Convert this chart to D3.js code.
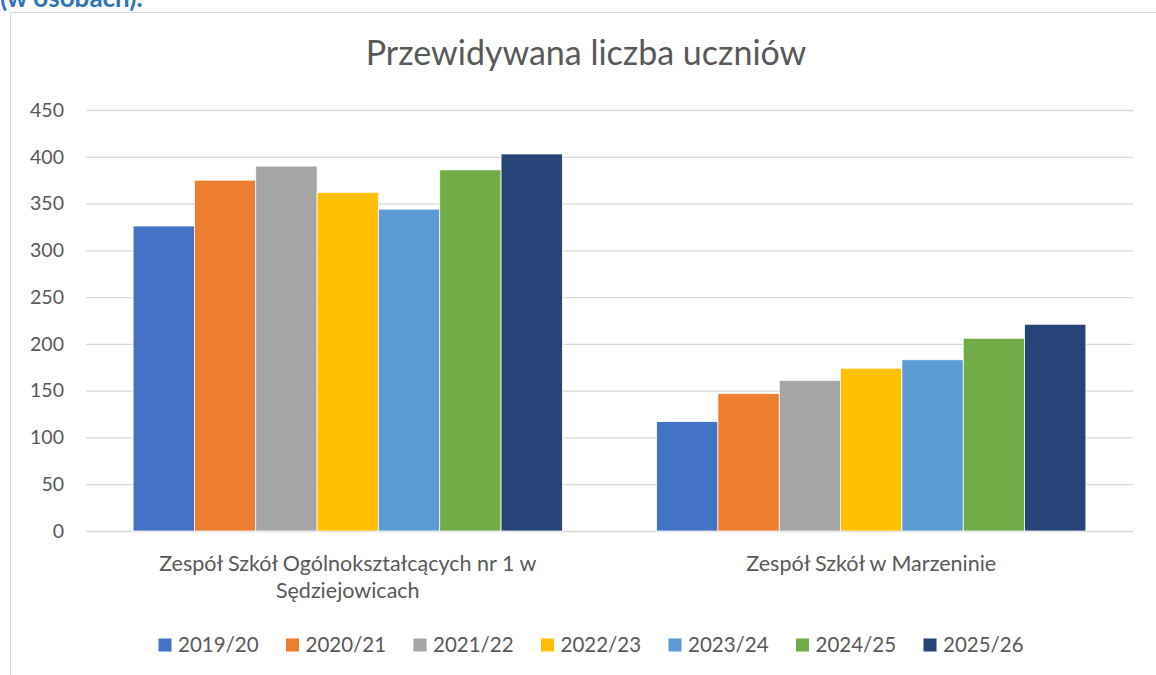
<!DOCTYPE html>
<html>
<head>
<meta charset="utf-8">
<script src="https://cdn.jsdelivr.net/npm/d3@7"></script>
<style>
  body { margin: 0; background: #fff; }
  text { font-family: Lato, "Noto Sans", sans-serif; fill: #595959; }
</style>
</head>
<body>
<svg></svg>
<script>
const categories = [
    ["Zespół Szkół Ogólnokształcących nr 1 w", "Sędziejowicach"],
    ["Zespół Szkół w Marzeninie"]
];
const seriesNames = ["2019/20", "2020/21", "2021/22", "2022/23", "2023/24", "2024/25", "2025/26"];
const seriesColors = ["#4472C4", "#ED7D31", "#A5A5A5", "#FFC000", "#5B9BD5", "#70AD47", "#264478"];
// wartości: [szkoła 1, szkoła 2]
const values = [
    [326, 117],
    [375, 147],
    [390, 161],
    [362, 174],
    [344, 183],
    [386, 206],
    [403, 221]
];
const yTicks = [0, 50, 100, 150, 200, 250, 300, 350, 400, 450];

const width = 1156, height = 675;
const svg = d3.select("svg").attr("width", width).attr("height", height);

// tekst nad wykresem (ucięty u góry strony)
svg.append("text")
    .attr("x", 0).attr("y", 6.5)
    .style("fill", "#2F75B5")
    .style("font-weight", "bold")
    .style("font-size", "26px")
    .text("(w osobach).");

// ramka wykresu
svg.append("rect")
    .attr("x", 10.5).attr("y", 12.5)
    .attr("width", 1200).attr("height", 700)
    .attr("fill", "#fff")
    .attr("stroke", "#D9D9D9");

svg.append("text")
    .attr("x", 586).attr("y", 65)
    .attr("text-anchor", "middle")
    .style("font-size", "34px")
    .text("Przewidywana liczba uczniów");

const plot = { left: 86, right: 1133, top: 110, bottom: 531 };

const y = d3.scaleLinear().domain([0, 450]).range([plot.bottom, plot.top]);

const x0 = d3.scaleBand()
    .domain(d3.range(categories.length))
    .range([plot.left, plot.right])
    .paddingInner(0.18)
    .paddingOuter(0.09);

const x1 = d3.scaleBand()
    .domain(d3.range(seriesNames.length))
    .range([0, x0.bandwidth()]);

// siatka
const grid = svg.append("g")
    .attr("transform", "translate(" + plot.left + ",0)")
    .call(d3.axisLeft(y).tickValues(yTicks).tickSize(-(plot.right - plot.left)).tickFormat(""));
grid.select(".domain").remove();
grid.selectAll("line").attr("stroke", "#D9D9D9").attr("stroke-width", 1.3);

// etykiety osi Y
const yAxis = svg.append("g")
    .attr("transform", "translate(64,0)")
    .call(d3.axisLeft(y).tickValues(yTicks).tickSize(0).tickPadding(0));
yAxis.select(".domain").remove();
yAxis.selectAll("text")
    .style("font-size", "19.5px")
    .style("font-family", "Lato, 'Noto Sans', sans-serif")
    .attr("fill", "#595959");

// słupki
const groups = svg.append("g").selectAll("g")
    .data(categories)
    .enter().append("g")
    .attr("transform", function (d, i) { return "translate(" + x0(i) + ",0)"; });

groups.selectAll("rect")
    .data(function (d, ci) { return seriesNames.map(function (s, si) { return { si: si, v: values[si][ci] }; }); })
    .enter().append("rect")
    .attr("x", function (d) { return x1(d.si); })
    .attr("y", function (d) { return y(d.v); })
    .attr("width", x1.bandwidth())
    .attr("height", function (d) { return y(0) - y(d.v); })
    .attr("fill", function (d) { return seriesColors[d.si]; })
    .attr("stroke", "#fff")
    .attr("stroke-width", 0.75);

// etykiety kategorii
const catLabels = svg.append("g").selectAll("text")
    .data(categories)
    .enter().append("text")
    .attr("x", function (d, i) { return x0(i) + x0.bandwidth() / 2; })
    .attr("y", 571)
    .attr("text-anchor", "middle")
    .style("font-size", "21.5px");
catLabels.selectAll("tspan")
    .data(function (d) { return d; })
    .enter().append("tspan")
    .attr("x", function () { return this.parentNode.getAttribute("x"); })
    .attr("dy", function (d, i) { return i === 0 ? 0 : 27; })
    .text(function (d) { return d; });

// legenda
const legendStep = 127.5;
const legendX = 158.5;
const legend = svg.append("g").selectAll("g")
    .data(seriesNames)
    .enter().append("g")
    .attr("transform", function (d, i) { return "translate(" + (legendX + i * legendStep) + ",638.5)"; });
legend.append("rect")
    .attr("width", 13).attr("height", 13)
    .attr("fill", function (d, i) { return seriesColors[i]; });
legend.append("text")
    .attr("x", 19.5).attr("y", 13.8)
    .style("font-size", "20.5px")
    .text(function (d) { return d; });
</script>
</body>
</html>
